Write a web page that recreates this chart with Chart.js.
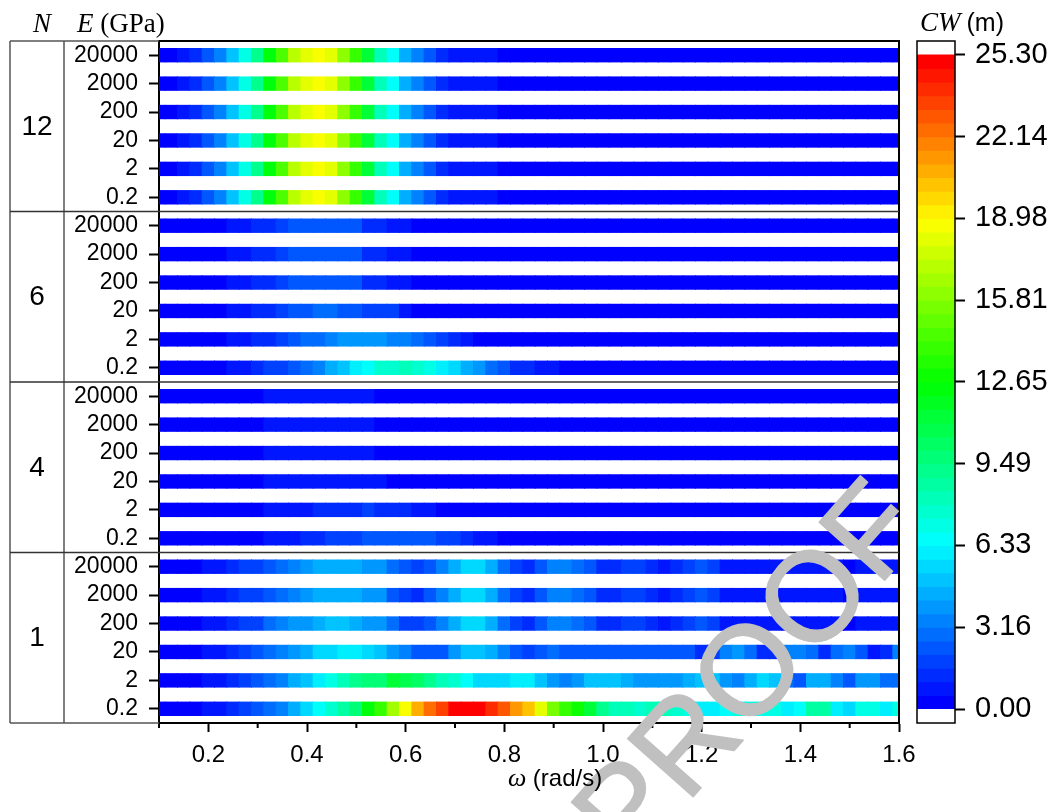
<!DOCTYPE html>
<html>
<head>
<meta charset="utf-8">
<script src="https://cdn.jsdelivr.net/npm/chart.js@4.4.1/dist/chart.umd.min.js"></script>
<style>
  html, body { margin: 0; padding: 0; background: #fff; }
  #wrap { position: relative; width: 1061px; height: 812px; }
  #heat { position: absolute; left: 0; top: 0; }
  #scale { position: absolute; left: 900px; top: 0; }
</style>
</head>
<body>
<div id="wrap">
  <canvas id="heat" width="1061" height="812"></canvas>
  <canvas id="scale" width="161" height="812"></canvas>
</div>
<script>
// ---- data ---------------------------------------------------------------
// wave frequency grid (rad/s)
const omega = [0.100,0.125,0.150,0.175,0.200,0.225,0.250,0.275,0.300,0.325,
               0.350,0.375,0.400,0.425,0.450,0.475,0.500,0.525,0.550,0.575,
               0.600,0.625,0.650,0.675,0.700,0.725,0.750,0.775,0.800,0.825,
               0.850,0.875,0.900,0.925,0.950,0.975,1.000,1.025,1.050,1.075,
               1.100,1.125,1.150,1.175,1.200,1.225,1.250,1.275,1.300,1.325,
               1.350,1.375,1.400,1.425,1.450,1.475,1.500,1.525,1.550,1.575,1.600];

// row labels: number of modules N and connector modulus E (GPa)
const nLabels = ['12', '6', '4', '1'];
const eLabels = ['20000', '2000', '200', '20', '2', '0.2'];

const xTickValues = [0.2, 0.4, 0.6, 0.8, 1.0, 1.2, 1.4, 1.6];
const xMinorTicks = [0.1, 0.3, 0.5, 0.7, 0.9, 1.1, 1.3, 1.5];

// colour scale
const cwMax = 25.30;
const cwLevels = 48;
const cwTickValues = [0, 3.16, 6.33, 9.49, 12.65, 15.81, 18.98, 22.14, 25.30];
const cwTickLabels = ['0.00', '3.16', '6.33', '9.49', '12.65', '15.81', '18.98', '22.14', '25.30'];

// CW (m), one row per E value (20000 ... 0.2), one value per omega
const cwN12 = [
  [0.3,0.4,0.8,1.3,2.4,3.4,5.0,7.1,9.2,12.4,14.5,17.1,18.2,18.7,18.2,16.1,14.0,11.3,8.2,6.6,4.5,3.4,2.4,1.3,0.8,0.8,0.7,0.6,0.5,0.5,0.4,0.4,0.4,0.3,0.3,0.3,0.3,0.3,0.2,0.2,0.2,0.2,0.2,0.2,0.2,0.2,0.2,0.2,0.1,0.1,0.1,0.1,0.1,0.1,0.1,0.1,0.1,0.1,0.1,0.1,0.1],
  [0.3,0.4,0.8,1.3,2.4,3.4,5.0,7.1,9.2,12.4,14.5,17.1,18.2,18.7,18.2,16.1,14.0,11.3,8.2,6.6,4.5,3.4,2.4,1.3,0.8,0.8,0.7,0.6,0.5,0.5,0.4,0.4,0.4,0.3,0.3,0.3,0.3,0.3,0.2,0.2,0.2,0.2,0.2,0.2,0.2,0.2,0.2,0.2,0.1,0.1,0.1,0.1,0.1,0.1,0.1,0.1,0.1,0.1,0.1,0.1,0.1],
  [0.3,0.4,0.8,1.3,2.4,3.4,5.0,7.1,9.2,12.4,14.5,17.1,18.2,18.7,18.2,16.1,14.0,11.3,8.2,6.6,4.5,3.4,2.4,1.3,0.8,0.8,0.7,0.6,0.5,0.5,0.4,0.4,0.4,0.3,0.3,0.3,0.3,0.3,0.2,0.2,0.2,0.2,0.2,0.2,0.2,0.2,0.2,0.2,0.1,0.1,0.1,0.1,0.1,0.1,0.1,0.1,0.1,0.1,0.1,0.1,0.1],
  [0.3,0.4,0.8,1.3,2.4,3.4,5.0,7.1,9.2,12.4,14.5,17.1,18.2,18.7,18.2,16.1,14.0,11.3,8.2,6.6,4.5,3.4,2.4,1.3,0.8,0.8,0.7,0.6,0.5,0.5,0.4,0.4,0.4,0.3,0.3,0.3,0.3,0.3,0.2,0.2,0.2,0.2,0.2,0.2,0.2,0.2,0.2,0.2,0.1,0.1,0.1,0.1,0.1,0.1,0.1,0.1,0.1,0.1,0.1,0.1,0.1],
  [0.3,0.4,0.8,1.3,2.4,3.4,5.0,7.1,9.2,12.4,14.5,17.1,18.2,18.7,18.2,16.1,14.0,11.3,8.2,6.6,4.5,3.4,2.4,1.3,0.8,0.8,0.7,0.6,0.5,0.5,0.4,0.4,0.4,0.3,0.3,0.3,0.3,0.3,0.2,0.2,0.2,0.2,0.2,0.2,0.2,0.2,0.2,0.2,0.1,0.1,0.1,0.1,0.1,0.1,0.1,0.1,0.1,0.1,0.1,0.1,0.1],
  [0.3,0.4,0.8,1.3,2.4,3.4,5.0,7.1,9.2,12.4,14.5,17.1,18.2,18.7,18.2,16.1,14.0,11.3,8.2,6.6,4.5,3.4,2.4,1.3,0.8,0.8,0.7,0.6,0.5,0.5,0.4,0.4,0.4,0.3,0.3,0.3,0.3,0.3,0.2,0.2,0.2,0.2,0.2,0.2,0.2,0.2,0.2,0.2,0.1,0.1,0.1,0.1,0.1,0.1,0.1,0.1,0.1,0.1,0.1,0.1,0.1]
];

const cwN6 = [
  [0.1,0.1,0.2,0.2,0.3,0.4,0.8,0.9,1.2,1.4,1.8,2.2,2.3,2.4,2.4,2.3,2.2,1.5,1.3,0.9,0.7,0.5,0.4,0.4,0.3,0.3,0.3,0.3,0.2,0.2,0.2,0.2,0.2,0.2,0.2,0.2,0.1,0.1,0.1,0.1,0.1,0.1,0.1,0.1,0.1,0.1,0.1,0.1,0.1,0.1,0.1,0.1,0.1,0.1,0.1,0.1,0.1,0.1,0.1,0.1,0.1],
  [0.1,0.1,0.2,0.2,0.3,0.4,0.8,0.9,1.2,1.4,1.8,2.2,2.3,2.4,2.4,2.3,2.2,1.5,1.3,0.9,0.7,0.5,0.4,0.4,0.3,0.3,0.3,0.3,0.2,0.2,0.2,0.2,0.2,0.2,0.2,0.2,0.1,0.1,0.1,0.1,0.1,0.1,0.1,0.1,0.1,0.1,0.1,0.1,0.1,0.1,0.1,0.1,0.1,0.1,0.1,0.1,0.1,0.1,0.1,0.1,0.1],
  [0.1,0.1,0.2,0.2,0.3,0.4,0.8,0.9,1.2,1.4,1.8,2.2,2.3,2.4,2.4,2.3,2.2,1.5,1.3,0.9,0.7,0.5,0.4,0.4,0.3,0.3,0.3,0.3,0.2,0.2,0.2,0.2,0.2,0.2,0.2,0.2,0.1,0.1,0.1,0.1,0.1,0.1,0.1,0.1,0.1,0.1,0.1,0.1,0.1,0.1,0.1,0.1,0.1,0.1,0.1,0.1,0.1,0.1,0.1,0.1,0.1],
  [0.1,0.1,0.2,0.2,0.3,0.4,0.8,1.0,1.2,1.5,1.9,2.2,2.6,2.8,2.8,2.6,2.3,2.0,1.9,1.6,0.9,0.5,0.4,0.4,0.3,0.3,0.3,0.3,0.2,0.2,0.2,0.2,0.2,0.2,0.2,0.2,0.1,0.1,0.1,0.1,0.1,0.1,0.1,0.1,0.1,0.1,0.1,0.1,0.1,0.1,0.1,0.1,0.1,0.1,0.1,0.1,0.1,0.1,0.1,0.1,0.1],
  [0.1,0.1,0.2,0.2,0.3,0.4,0.8,1.0,1.2,1.5,1.9,2.4,2.8,3.0,3.4,3.8,4.0,4.1,3.9,3.5,3.3,2.9,2.4,1.8,1.3,0.8,0.5,0.4,0.4,0.3,0.3,0.3,0.3,0.2,0.2,0.2,0.2,0.2,0.2,0.2,0.2,0.1,0.1,0.1,0.1,0.1,0.1,0.1,0.1,0.1,0.1,0.1,0.1,0.1,0.1,0.1,0.1,0.1,0.1,0.1,0.1],
  [0.1,0.1,0.2,0.2,0.3,0.4,0.8,1.0,1.4,1.7,2.0,2.4,2.9,3.5,4.6,5.1,6.1,6.7,7.6,7.8,8.2,7.7,7.1,6.1,5.6,4.5,4.0,2.9,2.3,1.4,1.2,0.9,0.6,0.5,0.4,0.4,0.3,0.3,0.3,0.3,0.2,0.2,0.2,0.2,0.2,0.2,0.2,0.2,0.1,0.1,0.1,0.1,0.1,0.1,0.1,0.1,0.1,0.1,0.1,0.1,0.1]
];

const cwN4 = [
  [0.1,0.1,0.1,0.2,0.2,0.2,0.3,0.3,0.4,0.6,0.7,0.7,0.8,0.8,0.8,0.7,0.7,0.6,0.5,0.4,0.4,0.3,0.3,0.3,0.3,0.3,0.2,0.2,0.2,0.2,0.2,0.2,0.2,0.2,0.2,0.2,0.2,0.2,0.1,0.1,0.1,0.1,0.1,0.1,0.1,0.1,0.1,0.1,0.1,0.1,0.1,0.1,0.1,0.1,0.1,0.1,0.1,0.1,0.1,0.1,0.1],
  [0.1,0.1,0.1,0.2,0.2,0.2,0.3,0.3,0.4,0.6,0.7,0.7,0.8,0.8,0.8,0.7,0.7,0.6,0.5,0.4,0.4,0.3,0.3,0.3,0.3,0.3,0.2,0.2,0.2,0.2,0.2,0.2,0.2,0.2,0.2,0.2,0.2,0.2,0.1,0.1,0.1,0.1,0.1,0.1,0.1,0.1,0.1,0.1,0.1,0.1,0.1,0.1,0.1,0.1,0.1,0.1,0.1,0.1,0.1,0.1,0.1],
  [0.1,0.1,0.1,0.2,0.2,0.2,0.3,0.3,0.4,0.6,0.7,0.7,0.8,0.8,0.8,0.7,0.7,0.6,0.5,0.4,0.4,0.3,0.3,0.3,0.3,0.3,0.2,0.2,0.2,0.2,0.2,0.2,0.2,0.2,0.2,0.2,0.2,0.2,0.1,0.1,0.1,0.1,0.1,0.1,0.1,0.1,0.1,0.1,0.1,0.1,0.1,0.1,0.1,0.1,0.1,0.1,0.1,0.1,0.1,0.1,0.1],
  [0.1,0.1,0.1,0.2,0.2,0.2,0.3,0.3,0.4,0.6,0.7,0.8,0.8,0.9,0.9,0.8,0.8,0.7,0.6,0.5,0.4,0.4,0.3,0.3,0.3,0.3,0.3,0.2,0.2,0.2,0.2,0.2,0.2,0.2,0.2,0.2,0.2,0.2,0.1,0.1,0.1,0.1,0.1,0.1,0.1,0.1,0.1,0.1,0.1,0.1,0.1,0.1,0.1,0.1,0.1,0.1,0.1,0.1,0.1,0.1,0.1],
  [0.1,0.1,0.1,0.2,0.2,0.2,0.3,0.3,0.4,0.6,0.7,0.9,1.0,1.1,1.3,1.4,1.5,1.6,1.5,1.3,1.1,0.9,0.7,0.5,0.4,0.4,0.3,0.3,0.3,0.3,0.2,0.2,0.2,0.2,0.2,0.2,0.2,0.2,0.1,0.1,0.1,0.1,0.1,0.1,0.1,0.1,0.1,0.1,0.1,0.1,0.1,0.1,0.1,0.1,0.1,0.1,0.1,0.1,0.1,0.1,0.1],
  [0.1,0.1,0.1,0.2,0.2,0.2,0.3,0.3,0.4,0.6,0.8,1.0,1.2,1.5,1.7,1.9,2.0,2.2,2.3,2.4,2.4,2.3,2.2,1.9,1.7,1.3,0.9,0.7,0.5,0.4,0.4,0.3,0.3,0.3,0.3,0.2,0.2,0.2,0.2,0.2,0.2,0.2,0.2,0.1,0.1,0.1,0.1,0.1,0.1,0.1,0.1,0.1,0.1,0.1,0.1,0.1,0.1,0.1,0.1,0.1,0.1]
];

const cwN1 = [
  [0.1,0.2,0.3,0.4,0.7,0.9,1.3,1.7,2.0,2.4,2.9,3.4,3.9,4.4,4.6,4.6,4.5,4.1,3.8,3.0,2.3,1.8,2.3,3.3,4.4,5.5,5.6,4.5,3.0,1.9,1.3,2.3,3.3,3.4,2.9,2.3,1.3,1.2,1.7,1.6,1.2,0.9,1.2,1.7,2.2,1.7,0.9,0.8,0.9,1.0,0.9,0.8,0.8,0.9,0.8,0.7,0.5,0.8,0.9,0.8,0.9],
  [0.1,0.2,0.3,0.4,0.7,0.9,1.3,1.7,2.0,2.4,2.9,3.4,3.9,4.4,4.6,4.6,4.5,4.1,3.8,2.4,1.9,1.4,2.3,3.3,4.4,5.5,5.6,4.5,3.0,1.9,1.3,2.3,3.3,3.4,2.9,2.3,1.3,1.2,1.7,1.6,1.2,0.9,1.2,1.7,2.2,1.7,0.9,0.8,0.9,1.0,0.9,0.8,0.8,0.9,0.8,0.7,0.5,0.8,0.9,0.8,0.9],
  [0.1,0.2,0.3,0.4,0.7,0.9,1.3,1.7,2.0,2.8,3.3,3.8,4.0,4.5,4.9,5.0,4.6,4.1,3.9,2.9,1.9,1.7,2.3,3.3,4.4,5.5,5.6,4.5,3.0,1.9,1.3,2.3,3.3,3.4,2.9,2.3,1.3,1.2,1.7,1.6,1.2,0.9,1.2,1.7,2.2,1.7,0.9,0.8,0.9,1.0,0.9,0.8,0.8,0.9,0.8,0.7,0.5,0.8,0.9,0.8,0.9],
  [0.1,0.2,0.3,0.4,0.7,0.9,1.3,1.8,2.3,2.9,3.4,3.9,4.5,5.4,5.6,6.0,6.1,5.5,5.0,4.0,3.4,2.4,2.3,2.5,4.0,5.0,5.1,4.6,3.4,2.4,1.8,2.3,2.8,2.4,2.5,2.4,2.3,2.4,2.5,2.4,2.3,2.2,2.3,2.4,1.4,1.8,3.4,3.9,2.9,1.3,1.2,3.3,3.4,2.9,1.3,2.8,3.4,2.3,0.9,1.3,3.5],
  [0.1,0.2,0.3,0.4,0.7,0.9,1.3,1.8,2.3,2.9,3.4,4.4,5.0,6.1,7.1,8.2,9.2,9.7,9.8,11.3,10.8,10.3,9.2,8.2,7.6,6.6,5.5,5.6,5.5,6.0,6.1,5.0,3.9,3.4,3.9,5.0,5.1,5.0,4.5,4.0,3.9,3.8,4.0,4.5,5.0,5.1,4.0,3.4,4.5,5.5,5.0,2.9,2.3,4.4,4.5,3.4,2.3,4.0,3.9,2.9,3.0],
  [0.1,0.2,0.3,0.4,0.7,0.9,1.3,1.8,2.3,2.9,3.4,4.5,5.5,6.6,7.6,8.7,9.7,12.4,14.0,16.6,18.7,20.8,22.4,23.5,25.0,25.3,24.9,24.0,22.9,21.3,20.3,18.2,15.5,14.0,12.9,11.3,9.2,8.2,8.0,7.6,8.2,8.1,7.7,7.1,6.1,6.0,6.6,7.1,7.2,7.0,7.1,6.1,6.6,8.7,8.6,6.0,5.5,7.1,7.2,6.1,7.1]
];

// ---- colour map: blue -> cyan -> green -> yellow -> red, 48 discrete levels ----
const colourStops = [[0, 0, 255], [0, 255, 255], [0, 255, 0], [255, 255, 0], [255, 0, 0]];
function levelColour(i) {
  const t = i / (cwLevels - 1) * (colourStops.length - 1);
  const k = Math.min(colourStops.length - 2, Math.floor(t));
  const f = t - k;
  const a = colourStops[k], b = colourStops[k + 1];
  const c = a.map((v, n) => Math.round(v + (b[n] - v) * f));
  return `rgb(${c[0]},${c[1]},${c[2]})`;
}
function cwColour(v) {
  const i = Math.max(0, Math.min(cwLevels - 1, Math.floor(v / (cwMax / cwLevels))));
  return levelColour(i);
}

// ---- heat map rows built from the arrays above ----
const rows = [...cwN12, ...cwN6, ...cwN4, ...cwN1];
const rowIndex = rows.map((_, r) => r);
const cellLo = omega.map((w, j) => j === 0 ? w : (omega[j - 1] + w) / 2);
const cellHi = omega.map((w, j) => j === omega.length - 1 ? w : (w + omega[j + 1]) / 2);

const heatSets = rows.map((vals, r) => ({
  data: vals.map((v, j) => ({ y: r, x: [cellLo[j], cellHi[j]] })),
  backgroundColor: vals.map(cwColour),
  borderWidth: 0
}));

const SANS = '"Liberation Sans", Arial, sans-serif';
const SERIF = '"Liberation Serif", "Times New Roman", serif';

// frame, N / E table, minor ticks, titles and the proof stamp
const heatDecor = {
  id: 'heatDecor',
  afterDraw(chart) {
    const { ctx, chartArea: a, scales: { x, y } } = chart;
    const groupSize = eLabels.length;
    ctx.save();

    // top and right frame lines
    ctx.strokeStyle = '#000';
    ctx.lineWidth = 2;
    ctx.beginPath();
    ctx.moveTo(a.left, a.top);
    ctx.lineTo(a.right, a.top);
    ctx.lineTo(a.right, a.bottom);
    ctx.stroke();

    // minor ticks on the omega axis
    ctx.beginPath();
    xMinorTicks.forEach(v => {
      const px = x.getPixelForValue(v);
      ctx.moveTo(px, a.bottom);
      ctx.lineTo(px, a.bottom + 5);
    });
    ctx.stroke();

    // table on the left
    const tableLeft = 10, tableMid = 64;
    ctx.strokeStyle = '#555';
    ctx.lineWidth = 1.5;
    ctx.beginPath();
    ctx.moveTo(tableLeft, a.top); ctx.lineTo(tableLeft, a.bottom);
    ctx.moveTo(tableMid, a.top); ctx.lineTo(tableMid, a.bottom);
    ctx.moveTo(tableLeft, a.top); ctx.lineTo(a.left, a.top);
    ctx.moveTo(tableLeft, a.bottom); ctx.lineTo(a.left, a.bottom);
    ctx.stroke();

    ctx.strokeStyle = '#333';
    ctx.beginPath();
    for (let g = 1; g < nLabels.length; g++) {
      const py = y.getPixelForValue(g * groupSize - 0.5);
      ctx.moveTo(tableLeft, py);
      ctx.lineTo(a.right, py);
    }
    ctx.stroke();

    // N group labels
    ctx.fillStyle = '#000';
    ctx.font = `28px ${SANS}`;
    ctx.textAlign = 'center';
    ctx.textBaseline = 'middle';
    nLabels.forEach((n, g) => {
      const py = y.getPixelForValue(g * groupSize + (groupSize - 1) / 2);
      ctx.fillText(n, (tableLeft + tableMid) / 2, py + 1);
    });

    // column headers
    ctx.textAlign = 'left';
    ctx.textBaseline = 'alphabetic';
    ctx.font = `italic 27px ${SERIF}`;
    ctx.fillText('N', 33, 32);
    ctx.fillText('E', 77, 32);
    const eW = ctx.measureText('E ').width;
    ctx.font = `27px ${SERIF}`;
    ctx.fillText('(GPa)', 77 + eW, 32);

    // proof stamp
    ctx.save();
    ctx.translate(630, 868);
    ctx.rotate(-48.5 * Math.PI / 180);
    ctx.font = `127px ${SANS}`;
    ctx.fillStyle = '#c0c0c0';
    ctx.strokeStyle = '#c0c0c0';
    ctx.lineWidth = 1.5;
    ctx.lineJoin = 'round';
    ctx.fillText('PROOF', 0, 0);
    ctx.strokeText('PROOF', 0, 0);
    ctx.restore();

    // omega axis title
    ctx.fillStyle = '#000';
    ctx.font = `italic 26px ${SERIF}`;
    ctx.fillText('\u03c9', 508, 786);
    const wW = ctx.measureText('\u03c9 ').width;
    ctx.font = `24px ${SANS}`;
    ctx.fillText('(rad/s)', 508 + wW, 786);

    ctx.restore();
  }
};

new Chart(document.getElementById('heat'), {
  type: 'bar',
  data: { datasets: heatSets },
  options: {
    responsive: false,
    animation: false,
    devicePixelRatio: 1,
    indexAxis: 'y',
    layout: { padding: { top: 41, right: 162, bottom: 0, left: 0 } },
    datasets: { bar: { grouped: false, barThickness: 13.4, inflateAmount: 0.5 } },
    plugins: { legend: { display: false }, tooltip: { enabled: false } },
    scales: {
      x: {
        type: 'linear', position: 'bottom',
        min: omega[0], max: omega[omega.length - 1],
        afterBuildTicks: s => { s.ticks = xTickValues.map(v => ({ value: v })); },
        afterFit: s => { s.height = 89; },
        grid: { drawOnChartArea: false, drawTicks: true, tickLength: 9, tickWidth: 2, tickColor: '#000' },
        border: { display: true, color: '#000', width: 2 },
        ticks: {
          autoSkip: false, maxRotation: 0, padding: 9, color: '#000',
          font: { family: SANS, size: 24 },
          callback: v => Number(v).toFixed(1)
        }
      },
      y: {
        type: 'linear', position: 'left', reverse: true, offset: false,
        min: -0.5, max: rows.length - 0.5,
        afterBuildTicks: s => { s.ticks = rowIndex.map(v => ({ value: v })); },
        afterFit: s => { s.width = 159; },
        grid: { offset: false, drawOnChartArea: false, drawTicks: true, tickLength: 10, tickWidth: 2, tickColor: '#000' },
        border: { display: true, color: '#000', width: 2 },
        ticks: {
          autoSkip: false, padding: 11, color: '#000',
          font: { family: SANS, size: 23 },
          callback: v => eLabels[Math.round(v) % eLabels.length]
        }
      }
    }
  },
  plugins: [heatDecor]
});

// ---- colour bar ----
const levelIndex = Array.from({ length: cwLevels }, (_, i) => i);
const levelStep = cwMax / cwLevels;

const scaleDecor = {
  id: 'scaleDecor',
  afterDraw(chart) {
    const { ctx, chartArea: a } = chart;
    ctx.save();
    ctx.strokeStyle = '#000';
    ctx.lineWidth = 1.5;
    ctx.strokeRect(a.left, a.top, a.right - a.left, a.bottom - a.top);
    ctx.fillStyle = '#000';
    ctx.textBaseline = 'alphabetic';
    ctx.font = `italic 27px ${SERIF}`;
    ctx.fillText('CW', 20, 31);
    const w = ctx.measureText('CW').width;
    ctx.font = `25px ${SANS}`;
    ctx.fillText('(m)', 20 + w + 6, 31);
    ctx.restore();
  }
};

new Chart(document.getElementById('scale'), {
  type: 'bar',
  data: {
    datasets: [{
      data: levelIndex.map(i => ({ x: 0, y: [i * levelStep, (i + 1) * levelStep] })),
      backgroundColor: levelIndex.map(levelColour),
      borderWidth: 0
    }]
  },
  options: {
    responsive: false,
    animation: false,
    devicePixelRatio: 1,
    layout: { padding: { top: 41, right: 0, bottom: 89, left: 17 } },
    datasets: { bar: { grouped: false, barThickness: 37, inflateAmount: 0.5 } },
    plugins: { legend: { display: false }, tooltip: { enabled: false } },
    scales: {
      x: { type: 'linear', min: -0.5, max: 0.5, display: false },
      y: {
        type: 'linear', position: 'right',
        min: -0.54, max: 25.84,
        afterBuildTicks: s => { s.ticks = cwTickValues.map(v => ({ value: v })); },
        afterFit: s => { s.width = 106; },
        grid: { drawOnChartArea: false, drawTicks: true, tickLength: 10, tickWidth: 2, tickColor: '#000' },
        border: { display: false },
        ticks: {
          autoSkip: false, padding: 10, color: '#000',
          font: { family: SANS, size: 29 },
          callback: (v, i) => cwTickLabels[i]
        }
      }
    }
  },
  plugins: [scaleDecor]
});
</script>
</body>
</html>
